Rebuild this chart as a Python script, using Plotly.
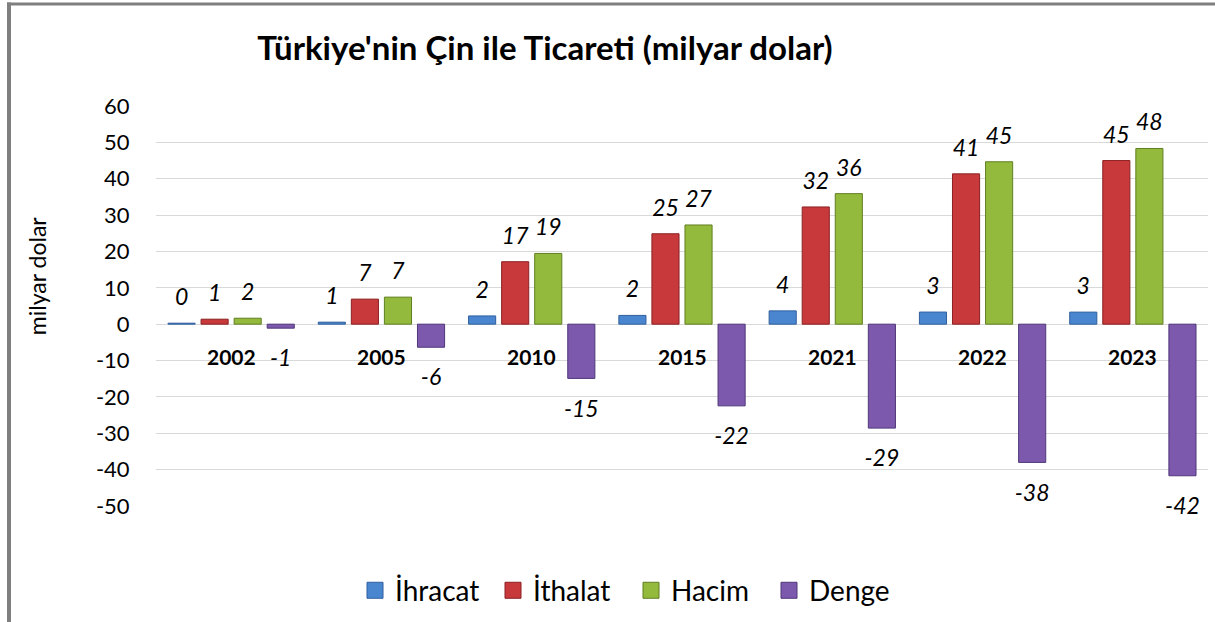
import plotly.graph_objects as go

years = ["2002", "2005", "2010", "2015", "2021", "2022", "2023"]
ihracat = [0.27, 0.55, 2.27, 2.41, 3.66, 3.33, 3.32]
ithalat = [1.37, 6.89, 17.18, 24.87, 32.24, 41.34, 45.0]
hacim = [1.64, 7.44, 19.45, 27.28, 35.90, 44.67, 48.32]
denge = [-1.10, -6.34, -14.91, -22.46, -28.58, -38.01, -41.68]

series_names = ["İhracat", "İthalat", "Hacim", "Denge"]
series_values = [ihracat, ithalat, hacim, denge]
fill_colors = ["#4A86D0", "#C8393B", "#93BA3C", "#7C59AD"]
edge_colors = ["#2F5F9E", "#8B2022", "#617F22", "#4F3679"]

title_text = "Türkiye'nin Çin ile Ticareti (milyar dolar)"
ytitle_text = "milyar dolar"
y_ticks = [60, 50, 40, 30, 20, 10, 0, -10, -20, -30, -40, -50]

W, H = 1215, 622
L, R, T, B = 156, 7, 106, 114
FONT = "Lato"


def px_x(p):
    return (p - L) / (W - L - R)


def px_y(p):
    return (H - B - p) / (H - T - B)


fig = go.Figure()

for i, (name, vals) in enumerate(zip(series_names, series_values)):
    fig.add_trace(go.Bar(
        x=years, y=vals, name=name,
        marker=dict(color=fill_colors[i], line=dict(color=edge_colors[i], width=1)),
        offsetgroup=str(i), showlegend=False,
        hoverinfo="skip",
    ))

for i, (name, vals) in enumerate(zip(series_names, series_values)):
    neg = [v < 0 for v in vals]
    fig.add_trace(go.Scatter(
        x=years, y=vals, mode="markers+text",
        text=[f"{round(v):d}" for v in vals],
        textposition=["bottom center" if n else "top center" for n in neg],
        textfont=dict(family=FONT, size=23, color="#000000", style="italic"),
        marker=dict(size=[32 if n else 18 for n in neg], opacity=0),
        offsetgroup=str(i),
        showlegend=False, hoverinfo="skip", cliponaxis=False,
    ))

# legend entries
for i, name in enumerate(series_names):
    fig.add_trace(go.Scatter(
        x=[None], y=[None], mode="markers", name=name,
        marker=dict(symbol="square", size=16, color=fill_colors[i],
                    line=dict(color=edge_colors[i], width=1)),
        showlegend=True, hoverinfo="skip",
    ))

annotations = []
for idx, yr in enumerate(years):
    annotations.append(dict(
        x=idx, y=0, xref="x", yref="y", text=f"<b>{yr}</b>",
        showarrow=False, yanchor="middle", yshift=-32,
        font=dict(family=FONT, size=21, color="#000000"),
    ))
annotations.append(dict(
    x=px_x(37), y=px_y(277), xref="paper", yref="paper", text=ytitle_text,
    textangle=-90, showarrow=False, xanchor="center", yanchor="middle",
    font=dict(family=FONT, size=23, color="#000000"),
))

shapes = [
    dict(type="line", xref="paper", yref="paper",
         x0=px_x(7), x1=px_x(1230), y0=px_y(3.5), y1=px_y(3.5),
         line=dict(color="#7F7F7F", width=3)),
    dict(type="line", xref="paper", yref="paper",
         x0=px_x(9), x1=px_x(9), y0=px_y(2), y1=px_y(640),
         line=dict(color="#7F7F7F", width=4)),
]

fig.update_layout(
    width=W, height=H,
    margin=dict(l=L, r=R, t=T, b=B, pad=0),
    paper_bgcolor="white", plot_bgcolor="white",
    barmode="group", bargap=0.12, bargroupgap=0.18,
    scattermode="group", scattergap=0.12,
    title=dict(text=f"<b>{title_text}</b>", x=px_x(545), xref="paper", xanchor="center",
               y=1 - 48 / H, yref="container", yanchor="middle",
               font=dict(family=FONT, size=33, color="#000000")),
    xaxis=dict(type="category", showticklabels=False, showgrid=False, zeroline=False,
               showline=False, ticks="", range=[-0.5, len(years) - 0.5]),
    yaxis=dict(range=[-50, 60], tickvals=y_ticks, ticktext=[str(v) for v in y_ticks],
               showgrid=True, gridcolor="#D9D9D9", gridwidth=1,
               zeroline=True, zerolinecolor="#D9D9D9", zerolinewidth=1,
               showline=False, ticks="outside", ticklen=21, tickcolor="rgba(0,0,0,0)",
               tickfont=dict(family=FONT, size=22, color="#000000")),
    legend=dict(orientation="h", x=px_x(631), xanchor="center", y=px_y(593), yanchor="middle",
                font=dict(family=FONT, size=28, color="#000000"), itemwidth=30,
                entrywidth=93, entrywidthmode="pixels",
                traceorder="normal", bgcolor="rgba(0,0,0,0)"),
    annotations=annotations,
    shapes=shapes,
    showlegend=True,
)

fig.write_html("out.html", config={"displayModeBar": False},
               post_script="document.body.style.margin='0';")
